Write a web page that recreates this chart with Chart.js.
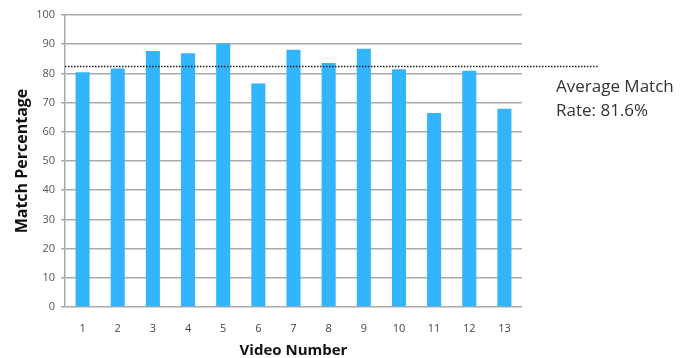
<!DOCTYPE html>
<html>
<head>
<meta charset="utf-8">
<script src="https://cdn.jsdelivr.net/npm/chart.js@4/dist/chart.umd.min.js"></script>
<style>
  html, body { margin: 0; padding: 0; background: #fff; }
  #wrap { width: 694px; height: 358px; }
</style>
</head>
<body>
<div id="wrap"><canvas id="matchChart" width="694" height="358"></canvas></div>
<script>
// Dados
const videos = ['1', '2', '3', '4', '5', '6', '7', '8', '9', '10', '11', '12', '13'];
const matchRates = [80.4, 81.7, 87.7, 86.9, 90.2, 76.5, 88.1, 83.6, 88.4, 81.4, 66.4, 80.9, 67.9];
const averageLine = 82.4;
const averageLabel = ['Average Match', 'Rate: 81.6%'];
const yTicks = [0, 10, 20, 30, 40, 50, 60, 70, 80, 90, 100];

// Plugin para a linha pontilhada da média e o texto ao lado
const averagePlugin = {
    id: 'averagePlugin',
    afterDatasetsDraw(chart) {
        const ctx = chart.ctx;
        const area = chart.chartArea;
        const y = chart.scales.y.getPixelForValue(averageLine);
        ctx.save();
        ctx.strokeStyle = '#222';
        ctx.lineWidth = 1.5;
        ctx.setLineDash([1.5, 1.5]);
        ctx.beginPath();
        ctx.moveTo(area.left, y);
        ctx.lineTo(area.right + 77, y);
        ctx.stroke();
        ctx.setLineDash([]);
        ctx.fillStyle = '#333';
        ctx.font = '17px "Open Sans", sans-serif';
        ctx.textBaseline = 'alphabetic';
        ctx.fillText(averageLabel[0], area.right + 34, y + 26);
        ctx.fillText(averageLabel[1], area.right + 34, y + 50);
        ctx.restore();
    }
};

const ctx = document.getElementById('matchChart').getContext('2d');

new Chart(ctx, {
    type: 'bar',
    data: {
        labels: videos,
        datasets: [{
            data: matchRates,
            backgroundColor: '#33b5fd',
            borderWidth: 0,
            categoryPercentage: 1,
            barPercentage: 0.4
        }]
    },
    options: {
        responsive: false,
        animation: false,
        layout: { padding: { top: 15, right: 172, left: 0, bottom: 0 } },
        plugins: {
            legend: { display: false },
            tooltip: { enabled: false }
        },
        scales: {
            x: {
                grid: { display: false },
                border: { display: false },
                ticks: {
                    color: '#444',
                    font: { family: 'Open Sans', size: 11 },
                    padding: 7
                },
                title: {
                    display: true,
                    text: 'Video Number',
                    color: '#111',
                    font: { family: 'Open Sans', size: 15, weight: 'bold', lineHeight: 1 },
                    padding: { top: 0, bottom: 0 }
                },
                afterFit(scale) { scale.height = 51; }
            },
            y: {
                min: 0,
                max: 100,
                afterBuildTicks(scale) {
                    scale.ticks = yTicks.map(v => ({ value: v }));
                },
                grid: {
                    color: '#a9a9a9',
                    lineWidth: 1.5,
                    tickLength: 4
                },
                border: { color: '#a9a9a9', width: 1.5 },
                ticks: {
                    color: '#555',
                    font: { family: 'Open Sans', size: 11 },
                    padding: 6
                },
                title: {
                    display: true,
                    text: 'Match Percentage',
                    color: '#111',
                    font: { family: 'Open Sans', size: 16, weight: 'bold' },
                    padding: { top: 13, bottom: 0 }
                },
                afterFit(scale) { scale.width = 65; }
            }
        }
    },
    plugins: [averagePlugin]
});
</script>
</body>
</html>
